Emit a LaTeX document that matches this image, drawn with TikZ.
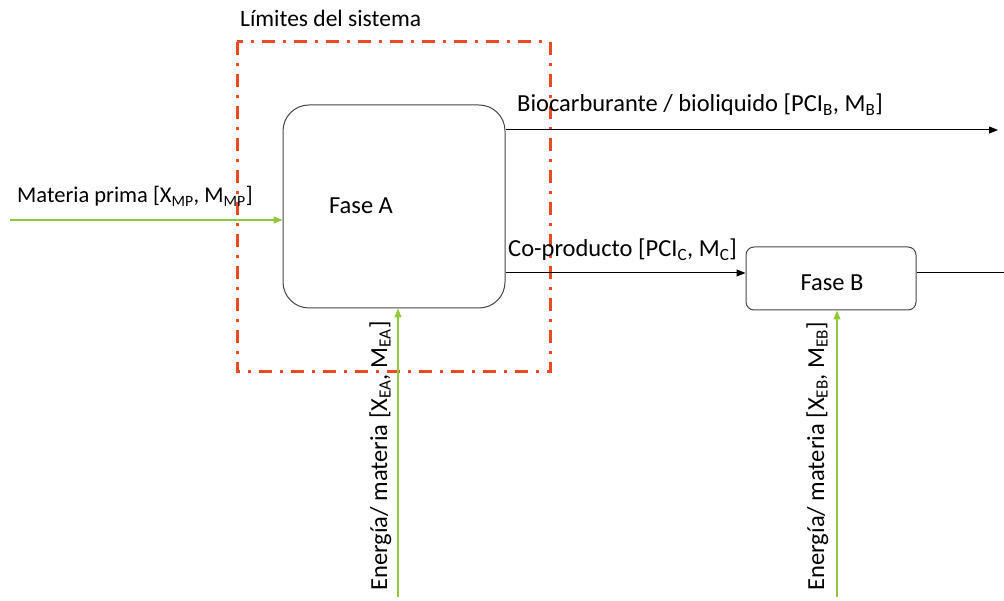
\documentclass[tikz,border=0pt]{standalone}
\usepackage{fontspec}
\setmainfont{Carlito}
\usetikzlibrary{arrows.meta}
\definecolor{limred}{RGB}{236,74,32}
\definecolor{ingreen}{RGB}{146,200,60}
\definecolor{boxgray}{RGB}{70,70,70}
\tikzset{
  every node/.style={font=\fontsize{24.5}{28}\selectfont, inner sep=0pt},
  smallfont/.style={font=\fontsize{22.5}{26}\selectfont},
  fasebox/.style={draw=boxgray, line width=1pt, fill=white},
  outarrow/.style={draw=black, line width=1pt, -{Triangle[length=9pt,width=7pt]}},
  inarrow/.style={draw=ingreen, line width=1.3pt, -{Triangle[length=9pt,width=7pt]}},
  plainline/.style={draw=black, line width=1pt},
  boundary/.style={draw=limred, line width=3pt, dash pattern=on 13pt off 8pt on 3pt off 8pt},
}
\begin{document}
\begin{tikzpicture}[x=1pt,y=-1pt]
\useasboundingbox (0,0) rectangle (1004,601);
% system boundary
\draw[boundary] (237,42) rectangle (550,372);
\node[anchor=base west, font=\fontsize{23.5}{28}\selectfont] (limlbl) at (240,27) {Límites del sistema};
% boxes
\node[fasebox, rounded corners=26pt, minimum width=222pt, minimum height=203pt] (faseA) at (394,206.5) {};
\node (lblA) at (361,206) {Fase A};
\node[fasebox, rounded corners=8pt, minimum width=170pt, minimum height=63pt] (faseB) at (831,278.5) {};
\node (lblB) at (832,283) {Fase B};
% coordinates
\coordinate (mpS) at (10,220);
\coordinate (bioE) at (998,130);
\coordinate (coY) at (0,273);
\coordinate (outE) at (1004,273);
\coordinate (eA) at (398,597);
\coordinate (eB) at (837,597);
% connectors
\draw[inarrow] (mpS) -- (mpS -| faseA.west);
\draw[outarrow] (faseA.east |- bioE) -- (bioE);
\draw[outarrow] (faseA.east |- coY) -- (faseB.west |- coY);
\draw[plainline] (faseB.east |- outE) -- (outE);
\draw[inarrow] (eA) -- (eA |- faseA.south);
\draw[inarrow] (eB) -- (eB |- faseB.south);
% labels
\node[anchor=base west, smallfont] (mplbl) at (17,203) {Materia prima [X\textsubscript{MP}, M\textsubscript{MP}]};
\node[anchor=base west] (biolbl) at (517,112) {Biocarburante / bioliquido [PCI\textsubscript{B}, M\textsubscript{B}]};
\node[anchor=base west] (colbl) at (508,257) {Co-producto [PCI\textsubscript{C}, M\textsubscript{C}]};
\node[rotate=90, anchor=base] (ealbl) at (387,456) {Energía/ materia [X\textsubscript{EA}, M\textsubscript{EA}]};
\node[rotate=90, anchor=base] (eblbl) at (824,456) {Energía/ materia [X\textsubscript{EB}, M\textsubscript{EB}]};
\end{tikzpicture}
\end{document}
